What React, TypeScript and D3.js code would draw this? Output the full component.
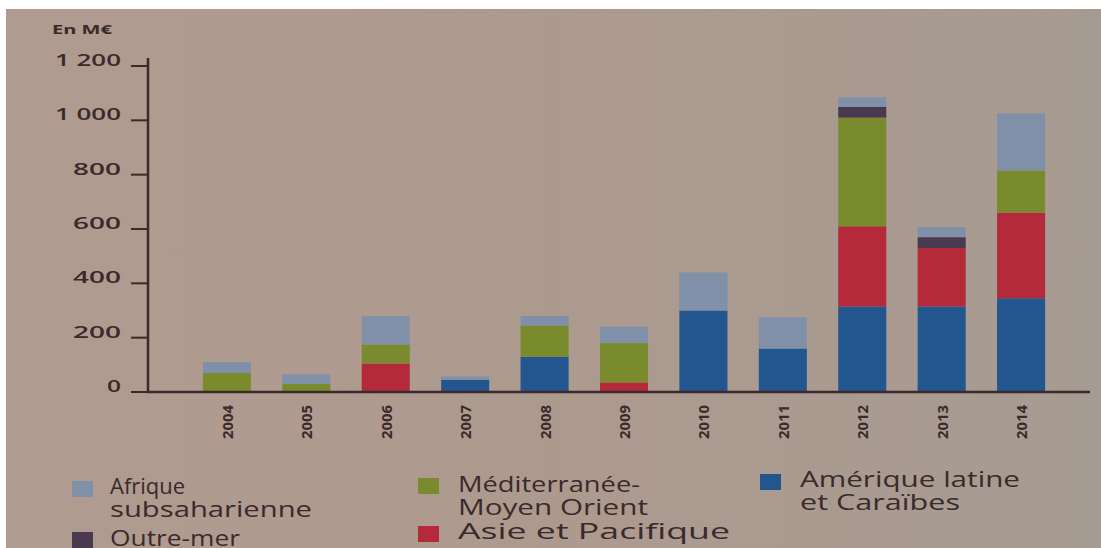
import React from "react";
import * as d3 from "d3";

const years = ["2004", "2005", "2006", "2007", "2008", "2009", "2010", "2011", "2012", "2013", "2014"];
const amerique = [0, 0, 0, 45, 130, 0, 300, 160, 315, 315, 345];
const asie = [0, 0, 105, 0, 0, 35, 0, 0, 295, 215, 315];
const mediterranee = [70, 30, 70, 0, 115, 145, 0, 0, 400, 0, 155];
const outremer = [0, 0, 0, 0, 0, 0, 0, 0, 40, 40, 0];
const afrique = [40, 35, 105, 12, 35, 60, 140, 115, 35, 37, 210];
const yTicks = [0, 200, 400, 600, 800, 1000, 1200];
const yTickLabels = ["0", "200", "400", "600", "800", "1 000", "1 200"];

const seriesKeys = ["amerique", "asie", "mediterranee", "outremer", "afrique"];
const colors: Record<string, string> = {
  amerique: "#23558f",
  asie: "#b42a3b",
  mediterranee: "#7a8b2d",
  outremer: "#4a3a50",
  afrique: "#7f90a8",
};

const legendItems = [
  { key: "afrique", lines: ["Afrique", "subsaharienne"], x: 72, y: 481, tx: 110, w: [75, 202], base: 494 },
  { key: "outremer", lines: ["Outre-mer"], x: 72, y: 532, tx: 110, w: [130], base: 546 },
  { key: "mediterranee", lines: ["Méditerranée-", "Moyen Orient"], x: 418, y: 478, tx: 458, w: [182, 190], base: 492 },
  { key: "asie", lines: ["Asie et Pacifique"], x: 418, y: 526, tx: 458, w: [272], base: 539 },
  { key: "amerique", lines: ["Amérique latine", "et Caraïbes"], x: 760, y: 474, tx: 800, w: [220, 160], base: 487 },
];

const INK = "#3a2a2a";

export default function App() {
  const W = 1101, H = 548;
  const table = years.map((y, i) => ({
    year: y,
    amerique: amerique[i],
    asie: asie[i],
    mediterranee: mediterranee[i],
    outremer: outremer[i],
    afrique: afrique[i],
  }));
  const stacked = d3.stack<any>().keys(seriesKeys)(table);
  const x = d3.scaleBand().domain(years).range([187, 1061]).paddingInner(0.395).paddingOuter(0.2);
  const y = d3.scaleLinear().domain([0, 1200]).range([392, 66]);
  const axisX = 148;

  return (
    <svg width={W} height={H} style={{ position: "absolute", left: 0, top: 0, display: "block" }}
      fontFamily="'Open Sans', sans-serif">
      <defs>
        <linearGradient id="paper" x1="0" x2="1" y1="0" y2="0">
          <stop offset="0" stopColor="#b09b90" />
          <stop offset="0.5" stopColor="#ad9a8f" />
          <stop offset="1" stopColor="#a69b92" />
        </linearGradient>
      </defs>
      <rect x={0} y={0} width={W} height={H} fill="#ffffff" />
      <rect x={6} y={9} width={W - 6} height={H - 9} fill="url(#paper)" />

      <text x={52} y={34} fontSize={13} fontWeight={700} fill={INK} textLength={60} lengthAdjust="spacingAndGlyphs">En M€</text>

      {stacked.map((s) => (
        <g key={s.key} fill={colors[s.key]}>
          {s.map((d: any, i: number) =>
            d[1] - d[0] > 0 ? (
              <rect key={i} x={x(years[i])} width={x.bandwidth()} y={y(d[1])} height={y(d[0]) - y(d[1])} />
            ) : null
          )}
        </g>
      ))}

      <line x1={axisX} x2={axisX} y1={58} y2={393} stroke={INK} strokeWidth={2.5} />
      <line x1={axisX - 1} x2={1090} y1={392} y2={392} stroke={INK} strokeWidth={2.5} />
      {yTicks.map((t, i) => (
        <g key={t}>
          <line x1={131} x2={axisX} y1={y(t)} y2={y(t)} stroke={INK} strokeWidth={2} />
          <text x={121} y={y(t)} textAnchor="end" fontSize={17} fontWeight={600} fill={INK}
            textLength={yTickLabels[i].length === 1 ? 14 : yTickLabels[i].length === 3 ? 48 : 66}
            lengthAdjust="spacingAndGlyphs">{yTickLabels[i]}</text>
        </g>
      ))}

      {years.map((yr) => {
        const cx = (x(yr) as number) + x.bandwidth() / 2;
        return (
          <text key={yr} transform={`translate(${cx},405) rotate(-90)`} textAnchor="end"
            dominantBaseline="central" fontSize={15} fontWeight={700} fill={INK}
            textLength={34} lengthAdjust="spacingAndGlyphs">{yr}</text>
        );
      })}

      {legendItems.map((it) => (
        <g key={it.key}>
          <rect x={it.x} y={it.y} width={21} height={16} fill={colors[it.key]} />
          <text fontSize={21} fill={INK}>
            {it.lines.map((ln, j) => (
              <tspan key={j} x={it.tx} y={it.base + j * 23}
                textLength={it.w[j]} lengthAdjust="spacingAndGlyphs">{ln}</tspan>
            ))}
          </text>
        </g>
      ))}
    </svg>
  );
}
